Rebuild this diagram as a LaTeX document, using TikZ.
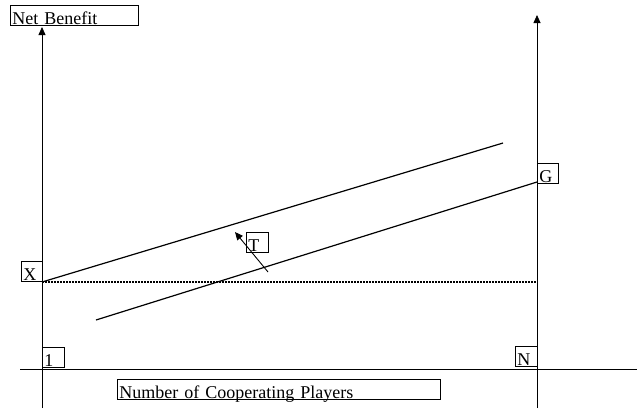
\documentclass[tikz,border=0pt]{standalone}
\usepackage{fontspec}
\setmainfont{Liberation Serif}
\usetikzlibrary{arrows.meta}

\begin{document}
\begin{tikzpicture}[>={Triangle[length=8pt, width=7pt]}, x=1pt, y=-1pt,
    lbl/.style={draw, line width=0.7pt, anchor=north west, align=left,
      inner xsep=2pt, inner ysep=0pt, text height=19pt, text depth=1pt,
      font=\fontsize{18}{18}\selectfont}]
    \useasboundingbox (0,0) rectangle (637,408);
    \clip (0,0) rectangle (637,408);
    % Puntos
    \coordinate (o1) at (42,408);
    \coordinate (t1) at (42,27);
    \coordinate (o2) at (537,408);
    \coordinate (t2) at (537,15);
    \coordinate (h1) at (20,369);
    \coordinate (h2) at (645,369);
    \coordinate (x0) at (42,282);
    \coordinate (xN) at (537,282);
    \coordinate (a1) at (503,143);
    \coordinate (b0) at (96,320);
    \coordinate (b1) at (537,182);
    \coordinate (p0) at (268,272);
    \coordinate (p1) at (235,232);
    % Ejes
    \draw[->, line width=0.8pt] (o1) -- (t1);
    \draw[->, line width=0.8pt] (o2) -- (t2);
    \draw[->, line width=0.8pt] (h1) -- (h2);
    % Rectas
    \draw[line width=1.2pt] (x0) -- (a1);
    \draw[line width=1.2pt] (b0) -- (b1);
    \draw[line width=2pt, dash pattern=on 1.6pt off 1.4pt] (x0) -- (xN);
    % T
    \draw[->, line width=0.9pt] (p0) -- (p1);
    % Etiquetas
    \node[lbl, text width=124pt] (nb) at (10,5) {Net Benefit};
    \node[lbl, text width=17pt] (bX) at (21,261) {X};
    \node[lbl, text width=18pt] (b1) at (42,347) {1};
    \node[lbl, text width=18pt] (bN) at (515,346) {N};
    \node[lbl, text width=17pt] (bG) at (537,163) {G};
    \node[lbl, text width=18pt] (bT) at (246,232) {T};
    \node[lbl, text width=319pt] (np) at (117,379) {Number of Cooperating Players};
\end{tikzpicture}
\end{document}
